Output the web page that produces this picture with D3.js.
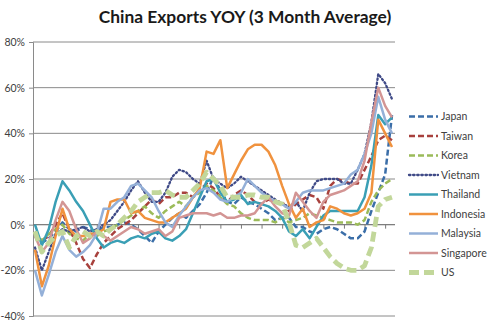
<!DOCTYPE html>
<html><head><meta charset="utf-8">
<script src="https://cdn.jsdelivr.net/npm/d3@7"></script>
<style>body{margin:0;background:#fff}svg{display:block}</style>
</head><body>
<svg id="c" width="492" height="322"></svg>
<script>
const title = "China Exports YOY (3 Month Average)";
const seriesNames = ["Japan","Taiwan","Korea","Vietnam","Thailand","Indonesia","Malaysia","Singapore","US"];
const yTicks = [-40,-20,0,20,40,60,80];
const japan = [-5,-8,-6,-3,1,-2,-3,-1,-2,-3,-1,-1,0,1,0,-2,-5,-8,-3,0,3,5,3,6,9,14,21,15,10,9,12,10,9,7,5,2,3,3,-1,-1,-3,-4,-2,-1,-2,-4,-6,-6,-3,6,14,22,48];
const taiwan = [-5,-7,-5,0,5,-2,-8,-15,-19,-13,-8,-5,-2,0,2,5,8,11,9,12,12,14,14,12,15,18,16,12,10,13,15,13,10,9,11,10,10,6,9,11,13,12,7,17,20,19,18,18,24,30,37,39,37];
const korea = [-3,-7,-4,-2,0,-4,-6,-7,-4,-5,-3,-2,0,2,4,6,8,5,3,6,8,10,8,12,14,17,15,12,9,8,5,3,2,2,2,1,3,1,2,3,5,4,3,2,1,1,1,0,2,10,15,18,20];
const vietnam = [-10,-20,-12,-4,-2,-3,-2,-1,-3,-2,0,2,6,10,15,19,14,10,10,14,21,24,23,20,18,28,20,18,16,18,21,19,17,15,13,11,9,8,10,6,14,19,20,20,20,18,18,24,31,45,66,62,55];
const thailand = [0,-9,-2,10,19,15,10,6,0,-6,-10,-8,-7,-8,-6,-5,-6,-4,-3,-6,-7,-5,-2,5,12,19,20,14,10,11,13,9,10,9,8,6,3,-3,-5,-2,-6,-1,4,6,6,6,6,6,12,26,48,44,47];
const indonesia = [-11,-27,-18,-5,7,-2,-5,-5,-4,-4,-2,10,11,11,5,6,3,2,1,1,3,5,7,12,16,32,31,37,16,22,28,33,35,35,32,26,17,9,3,7,-1,1,2,8,7,5,4,5,7,14,46,40,34];
const malaysia = [-20,-31,-22,-12,-5,-11,-14,-12,-9,-4,7,7,10,12,17,18,15,12,6,1,-1,4,8,12,15,16,14,11,10,12,14,20,17,14,12,10,9,7,10,14,15,15,15,16,17,18,22,24,31,40,56,46,40];
const singapore = [-5,-12,-8,2,10,6,-2,-8,-6,-3,-5,-7,-5,-3,-1,-2,-4,-3,-2,-5,-3,3,4,5,5,5,4,5,3,3,4,4,5,9,12,8,5,4,14,10,6,3,10,13,14,15,17,19,28,45,60,52,47];
const us = [-3,-12,-8,-5,-3,-10,-5,-3,-5,-3,-5,-2,0,3,6,10,12,14,14,15,13,12,12,15,18,23,20,17,12,12,12,13,13,12,12,10,9,1,-9,-10,-8,-6,-10,-14,-17,-19,-20,-20,-18,-10,8,11,12];

const values = [japan,taiwan,korea,vietnam,thailand,indonesia,malaysia,singapore,us];
const styles = [
  {c:"#3b6ea8", w:2.5, d:"6,3"},
  {c:"#a8413d", w:2.5, d:"6,3"},
  {c:"#9bbb59", w:2.5, d:"6,3"},
  {c:"#3f4a87", w:2.3, d:"1.5,2.6", cap:"round"},
  {c:"#3a9fb5", w:2.5, d:null},
  {c:"#f0923e", w:2.5, d:null},
  {c:"#94b0d8", w:2.5, d:null},
  {c:"#d39594", w:2.5, d:null},
  {c:"#c2d79a", w:4.8, d:"10,5"}
];

const svg = d3.select("#c");
const font = "Lato, 'Open Sans', sans-serif";
const n = japan.length;
const x = d3.scaleLinear().domain([0, n-1]).range([35, 392]);
const y = d3.scaleLinear().domain([-40, 80]).range([316, 42]);
const plotL = 33, plotR = 395;

svg.append("text").attr("x", 245).attr("y", 23).attr("text-anchor","middle")
  .attr("font-family", font).attr("font-weight","bold").attr("font-size", 17.4)
  .attr("fill","#1a1a1a").text(title);

// gridlines
svg.append("g").selectAll("line").data(yTicks).join("line")
  .attr("x1", plotL).attr("x2", plotR).attr("y1", d=>y(d)).attr("y2", d=>y(d))
  .attr("stroke", "#8a8a8a").attr("stroke-width", 1);

// y axis
const yAxis = d3.axisLeft(y).tickValues(yTicks).tickFormat(d=>d+"%").tickSize(4);
const ga = svg.append("g").attr("transform", `translate(${plotL},0)`).call(yAxis);
ga.select(".domain").attr("stroke","#8a8a8a");
ga.selectAll(".tick line").attr("stroke","#8a8a8a");
ga.selectAll("text").attr("font-family", font).attr("font-size", 10.5).attr("fill","#404040").attr("x",-8);

// x axis at 0
const xTickIdx = d3.range(0, n, 3);
const xAxis = d3.axisBottom(x).tickValues(xTickIdx).tickFormat("").tickSize(4).tickSizeOuter(0);
const gx = svg.append("g").attr("transform", `translate(0,${y(0)})`).call(xAxis);
gx.select(".domain").attr("d", `M${plotL},0H${plotR}`).attr("stroke","#7a7a7a");
gx.selectAll(".tick line").attr("stroke","#7a7a7a");

// lines
const line = d3.line().x((d,i)=>x(i)).y(d=>y(d));
values.forEach((vals, k) => {
  const s = styles[k];
  svg.append("path").datum(vals).attr("d", line).attr("fill","none")
    .attr("stroke", s.c).attr("stroke-width", s.w)
    .attr("stroke-dasharray", s.d).attr("stroke-linecap", s.cap || "butt")
    .attr("stroke-linejoin","round");
});

// legend
const lg = svg.append("g");
seriesNames.forEach((name, k) => {
  const s = styles[k];
  const yy = 116.5 + k*19.5;
  lg.append("line").attr("x1", 409).attr("x2", 438).attr("y1", yy).attr("y2", yy)
    .attr("stroke", s.c).attr("stroke-width", s.w)
    .attr("stroke-dasharray", s.d).attr("stroke-linecap", s.cap || "butt");
  lg.append("text").attr("x", 441).attr("y", yy + 3.8)
    .attr("font-family", font).attr("font-size", 10.5).attr("fill","#404040").text(name);
});
</script>
</body></html>
